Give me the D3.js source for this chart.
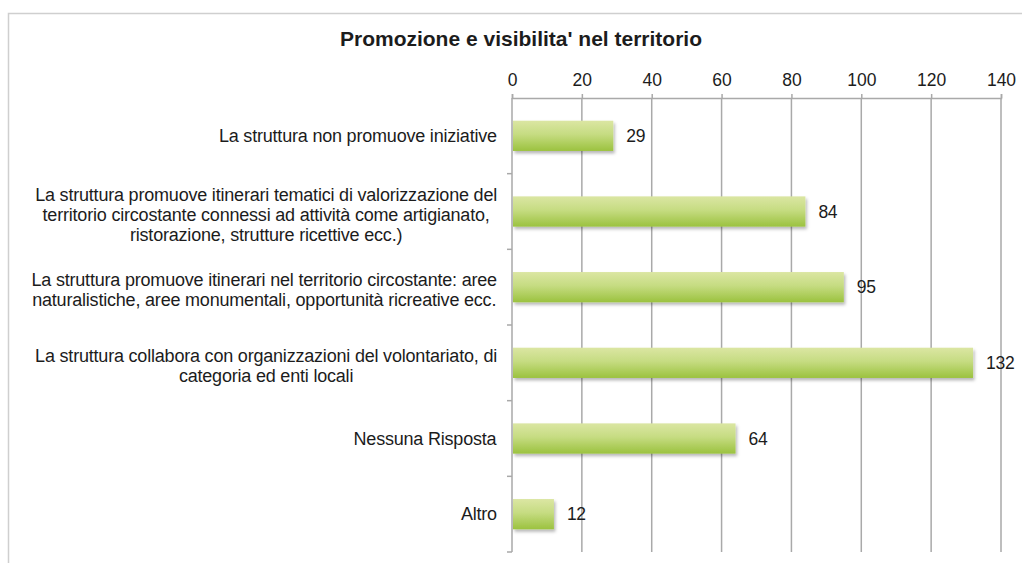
<!DOCTYPE html>
<html>
<head>
<meta charset="utf-8">
<script src="https://cdn.jsdelivr.net/npm/d3@7"></script>
<style>
  body { margin: 0; background: #fff; }
  text { font-family: "Liberation Sans", Arial, sans-serif; fill: #1c1c1c; }
</style>
</head>
<body>
<div id="chart-container"></div>
<script>
const title = "Promozione e visibilita' nel territorio";

// each category label is split in the lines shown on the chart
const categories = [
  ["La struttura non promuove iniziative"],
  ["La struttura promuove itinerari tematici di valorizzazione del",
   "territorio circostante connessi ad attività come artigianato,",
   "ristorazione, strutture ricettive ecc.)"],
  ["La struttura promuove itinerari nel territorio circostante: aree",
   "naturalistiche, aree monumentali, opportunità ricreative ecc."],
  ["La struttura collabora con organizzazioni del volontariato, di",
   "categoria ed enti locali"],
  ["Nessuna Risposta"],
  ["Altro"]
];
const values = [29, 84, 95, 132, 64, 12];
const xTicks = [0, 20, 40, 60, 80, 100, 120, 140];

const W = 1022, H = 563;
const margin = { top: 98, right: 21, bottom: 11, left: 512 };

const svg = d3.select("#chart-container")
  .append("svg")
  .attr("width", W)
  .attr("height", H);

const defs = svg.append("defs");
const grad = defs.append("linearGradient")
  .attr("id", "barGrad")
  .attr("x1", 0).attr("y1", 0).attr("x2", 0).attr("y2", 1);
grad.append("stop").attr("offset", "0%").attr("stop-color", "#dbe6a3");
grad.append("stop").attr("offset", "45%").attr("stop-color", "#c6dc82");
grad.append("stop").attr("offset", "100%").attr("stop-color", "#9bc23f");

const shadow = defs.append("filter").attr("id", "shadow")
  .attr("x", "-5%").attr("y", "-20%").attr("width", "115%").attr("height", "160%");
shadow.append("feDropShadow")
  .attr("dx", 1.5).attr("dy", 2.5).attr("stdDeviation", 1.6)
  .attr("flood-color", "#000").attr("flood-opacity", 0.28);

// frame of the chart area
svg.append("path")
  .attr("d", `M8.5,${H} V13.5 H${W}`)
  .attr("fill", "none")
  .attr("stroke", "#cfcfcf")
  .attr("stroke-width", 1.5);

svg.append("text")
  .attr("x", 521)
  .attr("y", 46)
  .attr("text-anchor", "middle")
  .attr("font-size", 21)
  .attr("font-weight", "bold")
  .text(title);

const x = d3.scaleLinear()
  .domain([0, 140])
  .range([margin.left, W - margin.right]);

const y = d3.scaleBand()
  .domain(d3.range(categories.length))
  .range([margin.top, H - margin.bottom])
  .paddingInner(0.6)
  .paddingOuter(0.3);

// gridlines
svg.append("g")
  .selectAll("line")
  .data(xTicks.slice(1))
  .join("line")
  .attr("x1", (d) => x(d)).attr("x2", (d) => x(d))
  .attr("y1", margin.top).attr("y2", H - margin.bottom)
  .attr("stroke", "#a9a9a9")
  .attr("stroke-width", 1.5);

// top axis
const xAxis = svg.append("g")
  .attr("transform", `translate(0,${margin.top})`)
  .call(d3.axisTop(x).tickValues(xTicks).tickSize(4).tickPadding(8));
xAxis.select(".domain").attr("stroke", "#a9a9a9").attr("stroke-width", 1.5);
xAxis.selectAll(".tick line").attr("stroke", "#a9a9a9").attr("stroke-width", 1.5);
xAxis.selectAll(".tick text")
  .attr("font-size", 17.5)
  .attr("font-family", "Liberation Sans, Arial, sans-serif")
  .attr("fill", "#1c1c1c");

// left axis with ticks at band boundaries
const step = y.step();
const boundaries = d3.range(categories.length + 1).map((i) => margin.top + i * step);
svg.append("line")
  .attr("x1", margin.left).attr("x2", margin.left)
  .attr("y1", margin.top).attr("y2", H - margin.bottom)
  .attr("stroke", "#a9a9a9").attr("stroke-width", 1.5);
svg.append("g")
  .selectAll("line")
  .data(boundaries.slice(1))
  .join("line")
  .attr("x1", margin.left - 5).attr("x2", margin.left)
  .attr("y1", (d) => d).attr("y2", (d) => d)
  .attr("stroke", "#a9a9a9").attr("stroke-width", 1.5);

// bars
svg.append("g")
  .selectAll("rect")
  .data(values)
  .join("rect")
  .attr("x", x(0) + 1)
  .attr("y", (d, i) => y(i))
  .attr("width", (d) => x(d) - x(0) - 1)
  .attr("height", y.bandwidth())
  .attr("fill", "url(#barGrad)")
  .attr("filter", "url(#shadow)");

// value labels
svg.append("g")
  .selectAll("text")
  .data(values)
  .join("text")
  .attr("x", (d) => x(d) + 13)
  .attr("y", (d, i) => y(i) + y.bandwidth() / 2)
  .attr("dy", "0.35em")
  .attr("font-size", 17.5)
  .attr("letter-spacing", -0.3)
  .text((d) => d);

// category labels
const lineH = 20;
const labels = svg.append("g")
  .selectAll("text")
  .data(categories)
  .join("text")
  .attr("font-size", 18)
  .attr("letter-spacing", -0.2)
  .attr("text-anchor", "middle");

labels.each(function (lines, i) {
  const t = d3.select(this);
  const cy = y(i) + y.bandwidth() / 2 + (lines.length > 1 ? 3 : 0);
  const y0 = cy - ((lines.length - 1) * lineH) / 2;
  lines.forEach((ln, j) => {
    t.append("tspan")
      .attr("x", 0)
      .attr("y", y0 + j * lineH)
      .attr("dy", "0.35em")
      .text(ln);
  });
  // right-align the block at x=497, centre lines inside it
  const w = this.getBBox().width;
  t.selectAll("tspan").attr("x", 497 - w / 2);
});
</script>
</body>
</html>
